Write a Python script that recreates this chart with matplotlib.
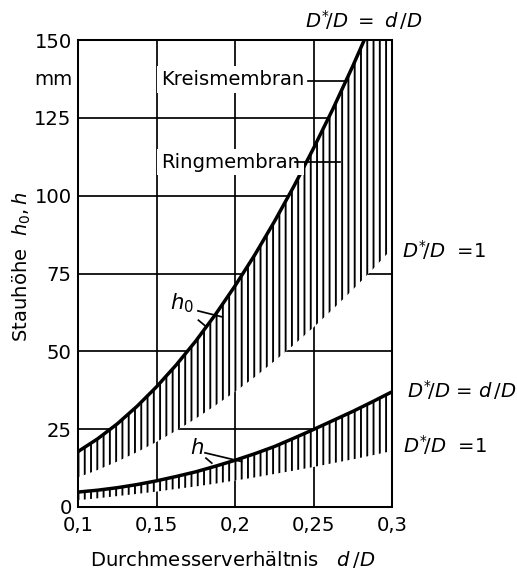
import matplotlib.pyplot as plt

plt.rcParams['font.family'] = 'DejaVu Sans'
plt.rcParams['mathtext.fontset'] = 'dejavusans'
plt.rcParams['hatch.linewidth'] = 1.2
plt.rcParams['hatch.color'] = 'black'

# Durchmesserverhältnis d/D
d_D = [0.1, 0.1125, 0.125, 0.1375, 0.15, 0.1625, 0.175, 0.1875, 0.2,
       0.2125, 0.225, 0.2375, 0.25, 0.2625, 0.275, 0.2875, 0.3]
# Stauhöhe h0: obere Grenze (D*/D = d/D) und untere Grenze (D*/D = 1)
h0_oben = [17.8, 21.9, 26.7, 32.3, 38.6, 45.6, 53.3, 61.8, 71.0,
           80.9, 91.6, 103.0, 115.2, 128.0, 141.6, 155.9, 171.0]
h0_unten = [9.5, 11.9, 14.6, 17.6, 20.9, 24.5, 28.4, 32.6, 37.0,
            41.7, 46.8, 52.1, 57.7, 63.6, 69.8, 76.2, 83.0]
# Stauhöhe h: obere und untere Grenze
h_oben = [4.8, 5.4, 6.2, 7.2, 8.4, 9.8, 11.3, 13.1, 15.0,
          17.1, 19.4, 22.1, 24.9, 27.8, 30.7, 33.8, 37.0]
h_unten = [2.2, 2.8, 3.5, 4.2, 4.95, 5.8, 6.6, 7.5, 8.5,
           9.5, 10.6, 11.7, 12.85, 14.1, 15.3, 16.6, 18.0]

x_ticks = [0.1, 0.15, 0.2, 0.25, 0.3]
x_labels = ['0,1', '0,15', '0,2', '0,25', '0,3']
y_ticks = [0, 25, 50, 75, 100, 125, 150]

DPI = 113
W, H = 517, 572
fig = plt.figure(figsize=(W / DPI, H / DPI), dpi=DPI)
ax = fig.add_axes([78 / W, 1 - 507 / H, 314 / W, 467 / H])

fs = 12.5

# schraffierte Bereiche (weiss hinterlegt, verdecken das Gitter)
for unten, oben in [(h0_unten, h0_oben), (h_unten, h_oben)]:
    ax.fill_between(d_D, unten, oben, facecolor='white', edgecolor='black',
                    linewidth=0, hatch='|||', zorder=2)
    ax.plot(d_D, oben, color='black', lw=2.2, zorder=3, solid_capstyle='butt')

ax.set_xlim(0.1, 0.3)
ax.set_ylim(0, 150)
ax.set_xticks(x_ticks)
ax.set_xticklabels(x_labels)
ax.set_yticks(y_ticks)
ax.tick_params(length=0, labelsize=fs)
ax.tick_params(axis='x', pad=6)
ax.tick_params(axis='y', pad=4)
ax.set_axisbelow(True)
ax.grid(True, color='black', lw=1.1)
for s in ax.spines.values():
    s.set_linewidth(1.3)

# Einheit
ax.text(0.0962, 137.2, 'mm', ha='right', va='center', fontsize=fs)

# Beschriftungen mit Hinweislinien
box = dict(boxstyle='square,pad=0.2', fc='white', ec='none')
ax.text(0.1529, 137.2, 'Kreismembran', ha='left', va='center', fontsize=fs,
        bbox=box, zorder=4)
ax.plot([0.2465, 0.2713], [136.8, 136.8], color='black', lw=1.1, zorder=4)
ax.text(0.1529, 110.8, 'Ringmembran', ha='left', va='center', fontsize=fs,
        bbox=box, zorder=4)
ax.plot([0.2382, 0.2669], [110.8, 110.8], color='black', lw=1.1, zorder=4)

ax.text(0.1662, 65.5, '$h_0$', ha='center', va='center', fontsize=fs + 1, zorder=4)
ax.plot([0.1764, 0.1915], [63.0, 61.1], color='black', lw=1.1, zorder=4)
ax.plot([0.1767, 0.1810], [60.0, 58.2], color='black', lw=1.1, zorder=4)

ax.text(0.1758, 18.8, '$h$', ha='center', va='center', fontsize=fs + 1, zorder=4)
ax.plot([0.1809, 0.2042], [17.4, 14.6], color='black', lw=1.1, zorder=4)
ax.plot([0.1815, 0.1852], [15.7, 14.1], color='black', lw=1.1, zorder=4)

# Achsenbeschriftungen
fig.text(22 / W, 1 - 267 / H, 'Stauhöhe  $h_0, h$', rotation=90,
         ha='center', va='center', fontsize=fs)
fig.text(233 / W, 1 - 560 / H, 'Durchmesserverhältnis   $d\\,/D$',
         ha='center', va='center', fontsize=fs)

# Randbeschriftungen
fig.text(364 / W, 1 - 20 / H, '$D^{*}\\!/D\\ =\\ d\\,/D$', ha='center', va='center', fontsize=fs)
fig.text(402 / W, 1 - 250 / H, '$D^{*}\\!/D$  =1', ha='left', va='center', fontsize=fs)
fig.text(407 / W, 1 - 390 / H, '$D^{*}\\!/D$ = $d\\,/D$', ha='left', va='center', fontsize=fs)
fig.text(403 / W, 1 - 445 / H, '$D^{*}\\!/D$  =1', ha='left', va='center', fontsize=fs)

fig.savefig('out.png', dpi=DPI)
